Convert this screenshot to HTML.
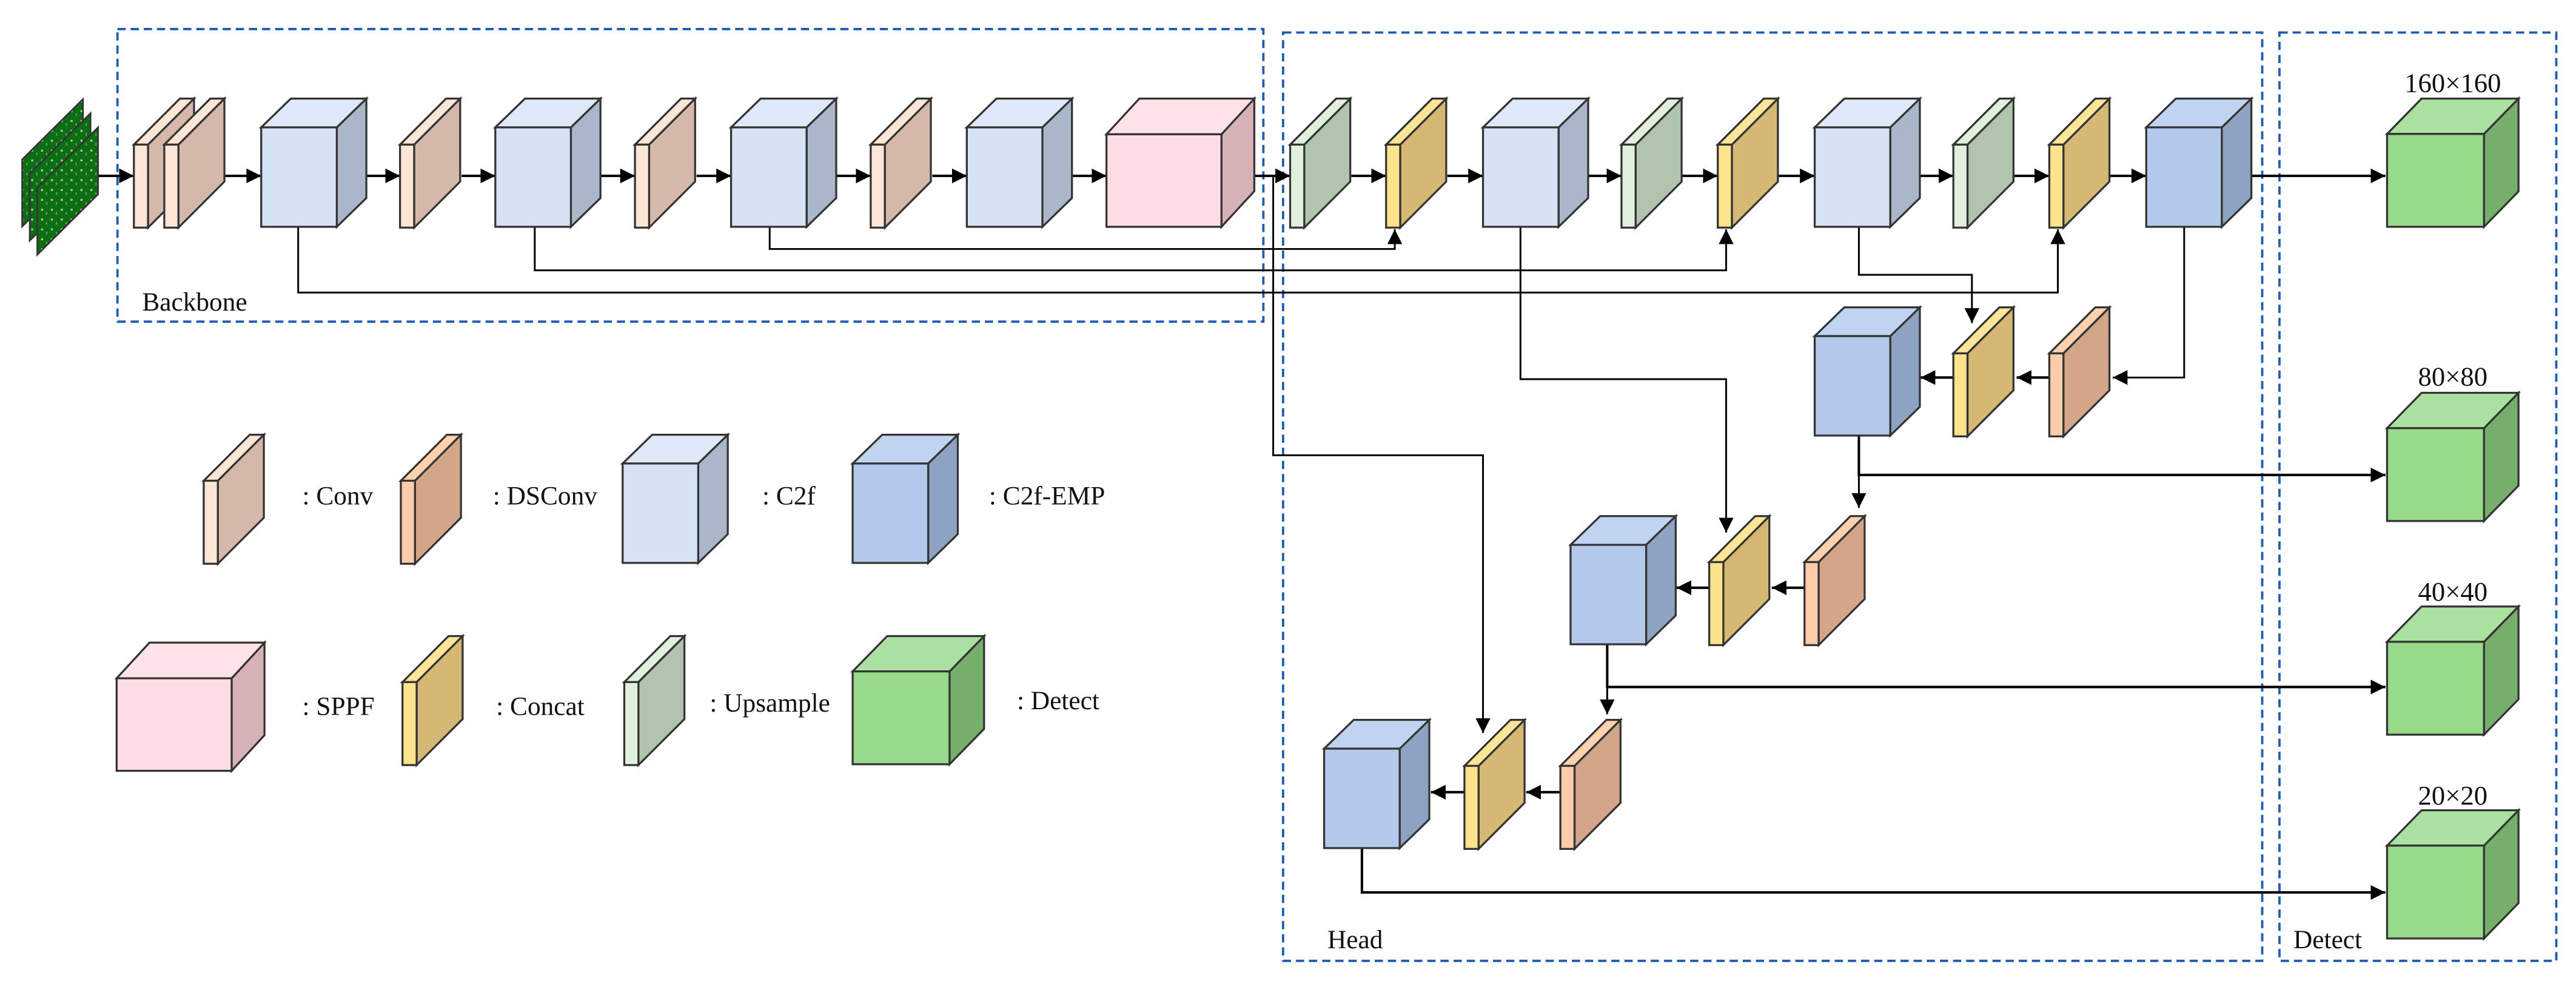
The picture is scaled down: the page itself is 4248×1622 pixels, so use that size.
<!DOCTYPE html>
<html><head><meta charset="utf-8"><style>
html,body{margin:0;padding:0;background:#fff;}
svg{display:block;}
text{font-family:"Liberation Serif","Times New Roman",serif;fill:#111;}
</style></head><body>
<svg width="4248" height="1622" viewBox="0 0 1568 598.7" xmlns="http://www.w3.org/2000/svg">
<defs>
<marker id="ah" markerUnits="userSpaceOnUse" markerWidth="10" markerHeight="10" refX="9" refY="4.5" orient="auto"><path d="M0,0 L9,4.5 L0,9 z" fill="#000"/></marker>
<pattern id="pcb" width="6" height="6" patternUnits="userSpaceOnUse"><rect width="6" height="6" fill="#0b6e12"/><rect x="1" y="1" width="1.2" height="1.2" fill="#b9c9b0"/><rect x="4" y="3" width="0.8" height="1.6" fill="#6a9a6a"/></pattern>
<g id="conv" stroke="#333" stroke-width="1.2" stroke-linejoin="miter">
<polygon points="8.6,28 36.6,0 36.6,50.5 8.6,78.5" fill="#d4b9aa"/>
<polygon points="0,28 8.6,28 36.6,0 28,0" fill="#fde6d6"/>
<rect x="0" y="28" width="8.6" height="50.5" fill="#fde6d6"/></g>
<g id="dsconv" stroke="#333" stroke-width="1.2">
<polygon points="8.6,28 36.6,0 36.6,50.5 8.6,78.5" fill="#d4a689"/>
<polygon points="0,28 8.6,28 36.6,0 28,0" fill="#fdd0b0"/>
<rect x="0" y="28" width="8.6" height="50.5" fill="#fdccaa"/></g>
<g id="concat" stroke="#333" stroke-width="1.2">
<polygon points="8.6,28 36.6,0 36.6,50.5 8.6,78.5" fill="#d5b873"/>
<polygon points="0,28 8.6,28 36.6,0 28,0" fill="#fde498"/>
<rect x="0" y="28" width="8.6" height="50.5" fill="#fde48c"/></g>
<g id="ups" stroke="#333" stroke-width="1.2">
<polygon points="8.6,28 36.6,0 36.6,50.5 8.6,78.5" fill="#b1c4b0"/>
<polygon points="0,28 8.6,28 36.6,0 28,0" fill="#e0f0dc"/>
<rect x="0" y="28" width="8.6" height="50.5" fill="#e0f0dc"/></g>
<g id="c2f" stroke="#333" stroke-width="1.2">
<polygon points="46,17.5 64,0 64,60.5 46,78" fill="#aab6c9"/>
<polygon points="0,17.5 46,17.5 64,0 18,0" fill="#dfe8f8"/>
<rect x="0" y="17.5" width="46" height="60.5" fill="#d6e3f5"/></g>
<g id="emp" stroke="#333" stroke-width="1.2">
<polygon points="46,17.5 64,0 64,60.5 46,78" fill="#8ea3c1"/>
<polygon points="0,17.5 46,17.5 64,0 18,0" fill="#c0d3f1"/>
<rect x="0" y="17.5" width="46" height="60.5" fill="#b3c8ea"/></g>
<g id="sppf" stroke="#333" stroke-width="1.2">
<polygon points="70,21.7 90,0 90,56.3 70,78" fill="#d6b2b7"/>
<polygon points="0,21.7 70,21.7 90,0 20,0" fill="#fde3e8"/>
<rect x="0" y="21.7" width="70" height="56.3" fill="#fddde3"/></g>
<g id="det" stroke="#333" stroke-width="1.2">
<polygon points="59,21.5 80,0 80,56.5 59,78" fill="#76ae6b"/>
<polygon points="0,21.5 59,21.5 80,0 21,0" fill="#abe1a0"/>
<rect x="0" y="21.5" width="59" height="56.5" fill="#96da8a"/></g>
</defs>

<g fill="none" stroke="#1f5cb3" stroke-width="1.4" stroke-dasharray="5,3">
<rect x="71.5" y="17.7" width="697.5" height="178"/>
<rect x="781" y="19.8" width="596" height="564.8"/>
<rect x="1387.5" y="19.8" width="168.5" height="564.8"/>
</g>

<g stroke="#333" stroke-width="1" fill="url(#pcb)">
<polygon points="13.5,97 50.5,60.3 50.5,101 13.5,137.8"/>
<polygon points="18.1,105.6 55.1,68.9 55.1,109.6 18.1,146.4"/>
<polygon points="22.7,114.2 59.7,77.5 59.7,118.2 22.7,155"/>
</g>

<g stroke="#000" stroke-width="1.5" fill="none" marker-end="url(#ah)">
<path d="M60,107H81.5"/><path d="M137,107H159"/><path d="M223,107H243.5"/><path d="M281,107H301.5"/>
<path d="M365.5,107H386.5"/><path d="M424,107H445"/><path d="M509,107H530"/><path d="M567.5,107H588.5"/>
<path d="M652.5,107H673.5"/><path d="M764,107H785.3"/><path d="M822.5,107H843.7"/><path d="M881,107H902.7"/>
<path d="M966.5,107H987"/><path d="M1024,107H1045.6"/><path d="M1082.5,107H1104.6"/><path d="M1168.5,107H1189"/>
<path d="M1226,107H1247.4"/><path d="M1284.5,107H1306.4"/><path d="M1370.5,107H1452"/>
<path d="M1247.4,229.7H1227.5"/><path d="M1189,229.7H1169"/>
<path d="M1098.4,357.6H1078.5"/><path d="M1040.4,357.6H1020.5"/>
<path d="M949.8,482H929"/><path d="M891.4,482H871"/>
<path d="M1131.5,265V289H1452"/>
<path d="M978.3,392V418H1452"/>
<path d="M829,516V543H1452"/>
</g>
<g stroke="#000" stroke-width="1.1" fill="none" marker-end="url(#ah)">
<path d="M468.5,138V151.5H849V139.5"/>
<path d="M325.5,138V164.5H1050.7V139.5"/>
<path d="M181.5,138V178H1252.6V139.5"/>
<path d="M775,107V277H902.7V446"/>
<path d="M925.5,138V230.7H1050.7V324"/>
<path d="M1131.5,138V167.2H1200.3V196.5"/>
<path d="M1329.5,138V229.7H1286"/>
<path d="M1131.5,289V309"/>
<path d="M978.3,418V434.6"/>
</g>

<use href="#conv" x="81.5" y="60"/><use href="#conv" x="100" y="60"/>
<use href="#conv" x="243.5" y="60"/><use href="#conv" x="386.5" y="60"/><use href="#conv" x="530" y="60"/>
<use href="#c2f" x="159" y="60"/><use href="#c2f" x="301.5" y="60"/><use href="#c2f" x="445" y="60"/><use href="#c2f" x="588.5" y="60"/>
<use href="#c2f" x="902.7" y="60"/><use href="#c2f" x="1104.6" y="60"/>
<use href="#sppf" x="673.5" y="60"/>
<use href="#ups" x="785.3" y="60"/><use href="#ups" x="987" y="60"/><use href="#ups" x="1189" y="60"/>
<use href="#concat" x="843.7" y="60"/><use href="#concat" x="1045.6" y="60"/><use href="#concat" x="1247.4" y="60"/>
<use href="#concat" x="1189" y="187"/><use href="#concat" x="1040.4" y="314"/><use href="#concat" x="891.4" y="438"/>
<use href="#emp" x="1306.4" y="60"/><use href="#emp" x="1104.6" y="187"/><use href="#emp" x="956" y="314"/><use href="#emp" x="806" y="438"/>
<use href="#dsconv" x="1247.4" y="187"/><use href="#dsconv" x="1098.4" y="314"/><use href="#dsconv" x="949.8" y="438"/>
<use href="#det" x="1453" y="60"/><use href="#det" x="1453" y="239"/><use href="#det" x="1453" y="369"/><use href="#det" x="1453" y="493"/>

<use href="#conv" x="124" y="264.5"/><use href="#dsconv" x="244" y="264.5"/>
<use href="#c2f" x="379" y="264.5"/><use href="#emp" x="519" y="264.5"/>
<use href="#sppf" x="71" y="391"/><use href="#concat" x="245" y="387"/>
<use href="#ups" x="380" y="387"/><use href="#det" x="519" y="387"/>

<g font-size="16" font-family="Liberation Serif, serif">
<text x="184" y="307">: Conv</text>
<text x="300" y="307">: DSConv</text>
<text x="464" y="307">: C2f</text>
<text x="602" y="307">: C2f-EMP</text>
<text x="184" y="435">: SPPF</text>
<text x="302" y="435">: Concat</text>
<text x="432" y="433">: Upsample</text>
<text x="619" y="431.5">: Detect</text>
<text x="86.5" y="189">Backbone</text>
<text x="808" y="577">Head</text>
<text x="1396" y="577">Detect</text>
</g>
<g font-size="16.5" text-anchor="middle" font-family="Liberation Serif, serif">
<text x="1493" y="56">160×160</text>
<text x="1493" y="234.5">80×80</text>
<text x="1493" y="365.5">40×40</text>
<text x="1493" y="489.5">20×20</text>
</g>
</svg>
</body></html>
